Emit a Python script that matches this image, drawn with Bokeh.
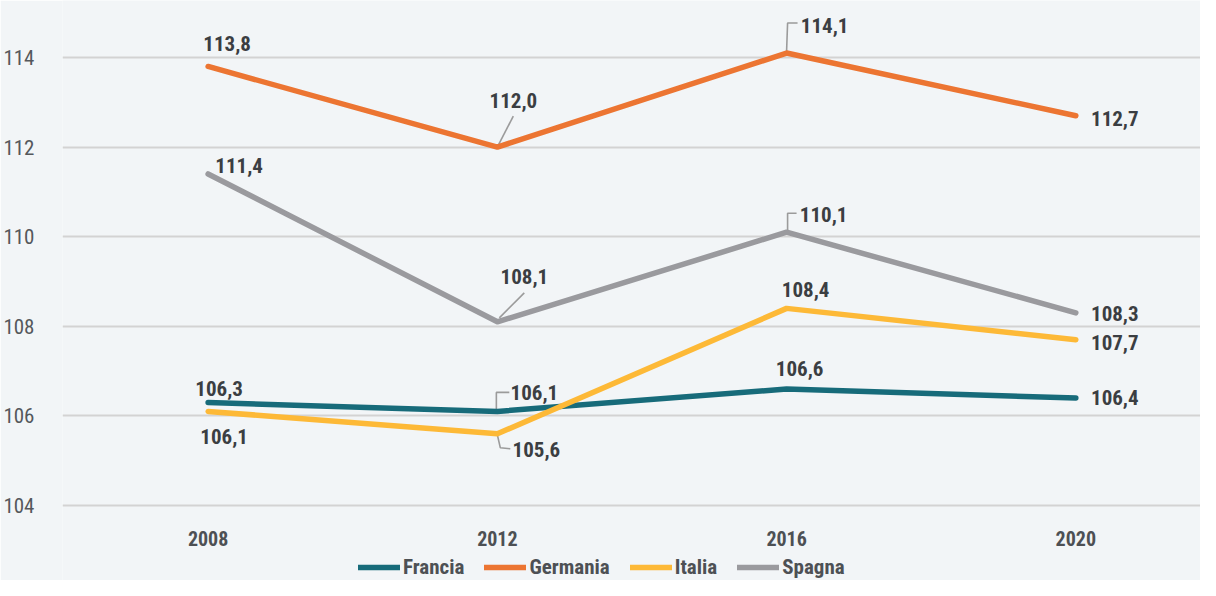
from bokeh.plotting import figure
from bokeh.models import FixedTicker, Legend, LegendItem, ColumnDataSource, Range1d
from bokeh.core.properties import value
from bokeh.embed import file_html
from bokeh.resources import INLINE

# ---- data ----
years = [2008, 2012, 2016, 2020]
year_labels = ["2008", "2012", "2016", "2020"]
francia = [106.3, 106.1, 106.6, 106.4]
germania = [113.8, 112.0, 114.1, 112.7]
italia = [106.1, 105.6, 108.4, 107.7]
spagna = [111.4, 108.1, 110.1, 108.3]
y_ticks = [104, 106, 108, 110, 112, 114]
series_names = ["Francia", "Germania", "Italia", "Spagna"]
series_values = [francia, germania, italia, spagna]
colors = ["#176b7a", "#ec7532", "#fdb937", "#9a9a9e"]

# ---- label placement (pixel offsets: centre of label relative to point) ----
label_offsets = {
    "Francia": [(11, -14), (37, -19), (13, -21), (39, 0)],
    "Germania": [(19, -23), (16, -47), (38, -28), (39, 3)],
    "Italia": [(16, 25), (39, 16), (19, -19), (39, 3)],
    "Spagna": [(31, -8), (27, -45), (37, -18), (39, 1)],
}
# leader lines: (series, year index, pixel path relative to point)
leaders = [
    ("Germania", 1, [(1, -2), (16, -31)]),
    ("Germania", 2, [(0, -2), (1, -30), (11, -30)]),
    ("Spagna", 1, [(2, -4), (27, -29)]),
    ("Spagna", 2, [(1, -1), (1, -19), (10, -19)]),
    ("Francia", 1, [(-1, -2), (-1, -19), (12, -19)]),
    ("Italia", 1, [(0, 1), (3, 14), (13, 15)]),
]

FONT = "Roboto Condensed"
BG = "#f2f5f7"

W, H = 1200, 580
BL = 59
FW = W - BL
FH = H
PX_X = 72.5   # px per year
PX_Y = 44.8   # px per unit
X0 = years[0] - (205 - BL) / PX_X
X1 = X0 + FW / PX_X
Y1 = 114 + 57 / PX_Y
Y0 = Y1 - FH / PX_Y

p = figure(width=W, height=H, output_backend="svg", toolbar_location=None,
           x_range=Range1d(X0, X1), y_range=Range1d(Y0, Y1),
           min_border_left=BL, min_border_right=0, min_border_top=0, min_border_bottom=0)
p.background_fill_color = BG
p.border_fill_color = BG
p.outline_line_color = None

# y axis
p.yaxis.ticker = FixedTicker(ticks=y_ticks)
yax = p.yaxis[0]
yax.axis_line_color = None
yax.major_tick_line_color = None
yax.minor_tick_line_color = None
yax.major_label_text_font = FONT
yax.major_label_text_font_size = "21px"
yax.major_label_text_color = "#55585c"
yax.major_label_standoff = 22

# x axis: category labels drawn under the lowest gridline
p.xaxis.visible = False
p.xaxis.ticker = FixedTicker(ticks=years)
p.text(x=years, y=[y_ticks[0]] * len(years), text=year_labels, y_offset=33,
       text_font=value(FONT), text_font_size="20px", text_font_style="bold",
       text_color="#4d5054", text_align="center", text_baseline="middle")

p.xgrid.grid_line_color = None
p.ygrid.grid_line_color = "#d3d3d3"
p.ygrid.grid_line_width = 2

# leader lines
lx, ly = [], []
for name, i, path in leaders:
    v = series_values[series_names.index(name)][i]
    lx.append([years[i] + dx / PX_X for dx, dy in path])
    ly.append([v - dy / PX_Y for dx, dy in path])
p.multi_line(lx, ly, line_color="#9b9b9b", line_width=1.6)

# series lines
items = []
for name, vals, col in zip(series_names, series_values, colors):
    r = p.line(years, vals, line_color=col, line_width=5.5, line_cap="round", line_join="round")
    items.append(LegendItem(label=name, renderers=[r]))

# data labels
for name, vals in zip(series_names, series_values):
    offs = label_offsets[name]
    src = ColumnDataSource(dict(
        x=years, y=vals,
        t=[f"{v:.1f}".replace(".", ",") for v in vals],
        xo=[o[0] for o in offs], yo=[o[1] for o in offs],
    ))
    p.text(x="x", y="y", text="t", x_offset="xo", y_offset="yo", source=src,
           text_font=value(FONT), text_font_size="21px", text_font_style="bold",
           text_color="#3b3e42", text_align="center", text_baseline="middle")

legend = Legend(items=items, orientation="horizontal", location=(296, 1))
legend.background_fill_alpha = 0
legend.border_line_alpha = 0
legend.label_text_font = FONT
legend.label_text_font_size = "21px"
legend.label_text_font_style = "bold"
legend.label_text_color = "#4d5054"
legend.glyph_width = 42
legend.glyph_height = 18
legend.label_height = 18
legend.label_standoff = 3
legend.spacing = 20
legend.padding = 0
legend.margin = 0
p.add_layout(legend)

open("out.html", "w").write(file_html(p, INLINE))
